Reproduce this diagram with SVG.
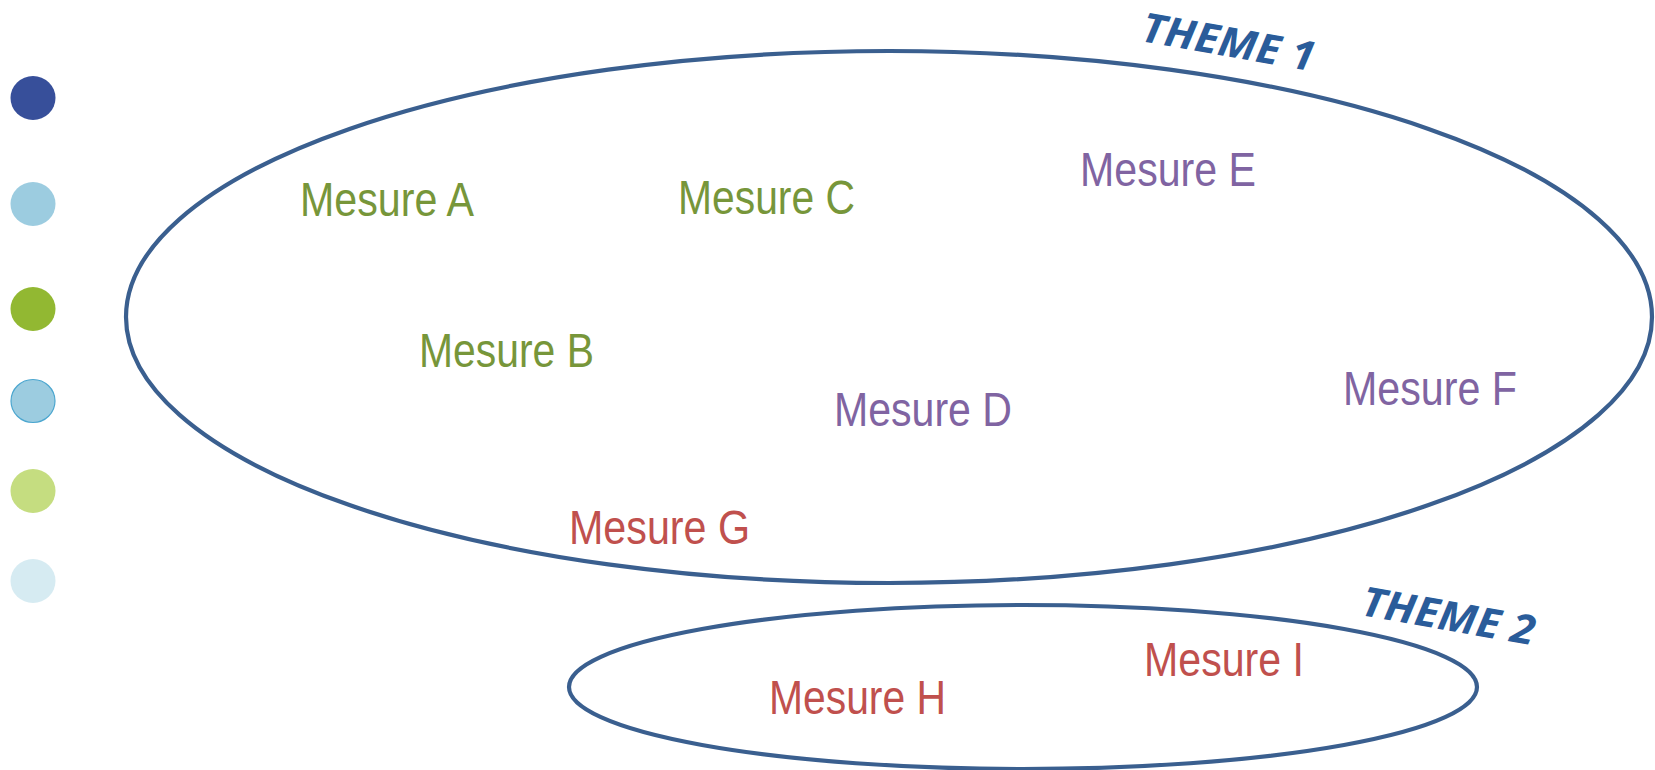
<svg xmlns="http://www.w3.org/2000/svg" width="1655" height="770" viewBox="0 0 1655 770">
<style>
.ell{fill:none;stroke:#3a5f8f;stroke-width:4.2}
.m{font-family:"Liberation Sans",Arial,sans-serif;font-size:48px}
.g{fill:#77963a}.p{fill:#8064a2}.r{fill:#c0504d}
.th{font-family:"Open Sans","Liberation Sans",sans-serif;font-weight:bold;font-style:italic;font-size:41px;fill:#2a5c9a}
</style>
<rect width="1655" height="770" fill="#fff"/>
<g id="legend">
<ellipse cx="33" cy="98" rx="22.5" ry="22" fill="#374f9a"/>
<ellipse cx="33" cy="204" rx="22.5" ry="22" fill="#9ccce0"/>
<ellipse cx="33" cy="309" rx="22.5" ry="22" fill="#92b832"/>
<ellipse cx="33" cy="401" rx="22" ry="21.5" fill="#9ccce0" stroke="#4ba6cf" stroke-width="1.2"/>
<ellipse cx="33" cy="491" rx="22.5" ry="22" fill="#c5dd80"/>
<ellipse cx="33" cy="581" rx="22.5" ry="22" fill="#d6ebf2"/>
</g>
<g id="theme1">
<ellipse class="ell" cx="889" cy="317" rx="763" ry="266"/>
<text class="th" transform="translate(1140,41) rotate(10)" textLength="175" lengthAdjust="spacingAndGlyphs">THEME 1</text>
</g>
<g id="theme2">
<ellipse class="ell" cx="1023" cy="687" rx="454" ry="82"/>
<text class="th" transform="translate(1360,615) rotate(10)" textLength="175" lengthAdjust="spacingAndGlyphs">THEME 2</text>
</g>
<g id="mesures">
<text class="m g" x="300" y="216" textLength="174" lengthAdjust="spacingAndGlyphs">Mesure A</text>
<text class="m g" x="678" y="214" textLength="177" lengthAdjust="spacingAndGlyphs">Mesure C</text>
<text class="m p" x="1080" y="186" textLength="176" lengthAdjust="spacingAndGlyphs">Mesure E</text>
<text class="m g" x="419" y="367" textLength="175" lengthAdjust="spacingAndGlyphs">Mesure B</text>
<text class="m p" x="834" y="426" textLength="178" lengthAdjust="spacingAndGlyphs">Mesure D</text>
<text class="m p" x="1343" y="405" textLength="174" lengthAdjust="spacingAndGlyphs">Mesure F</text>
<text class="m r" x="569" y="544" textLength="181" lengthAdjust="spacingAndGlyphs">Mesure G</text>
<text class="m r" x="769" y="714" textLength="177" lengthAdjust="spacingAndGlyphs">Mesure H</text>
<text class="m r" x="1144" y="676" textLength="160" lengthAdjust="spacingAndGlyphs">Mesure I</text>
</g>
</svg>
